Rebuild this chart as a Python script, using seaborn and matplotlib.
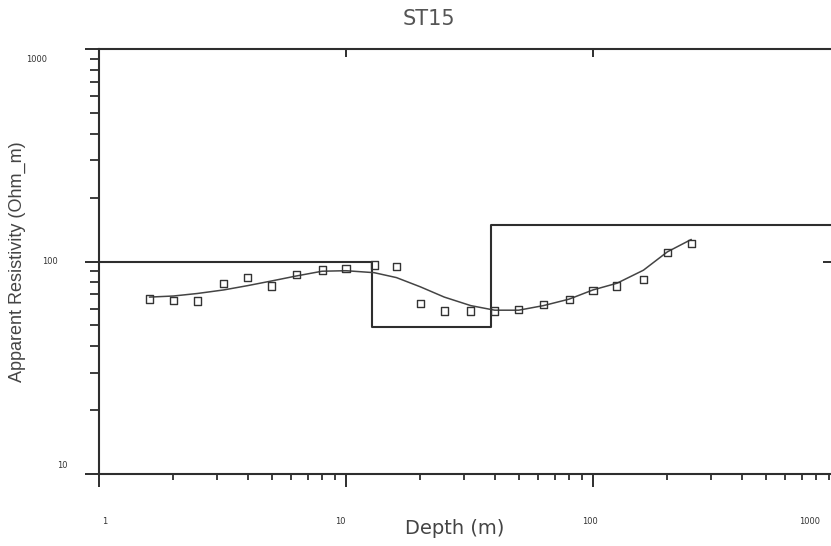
import matplotlib
matplotlib.use("Agg")
import matplotlib.pyplot as plt
import matplotlib.transforms as mtransforms
from matplotlib.ticker import LogLocator, NullFormatter
import numpy as np
import pandas as pd
import seaborn as sns

# Sounding ST15: AB/2 spacing (m) and apparent resistivity (Ohm.m)
spacing = [1.6, 2, 2.5, 3.2, 4, 5, 6.3, 8, 10, 13, 16, 20, 25, 32, 40,
           50, 63, 80, 100, 125, 160, 200, 250]
rho_observed = [66.6, 65.4, 65.2, 79.0, 83.9, 76.7, 86.7, 91.2, 92.5, 96.3,
                94.5, 63.3, 58.5, 58.5, 58.5, 59.6, 62.9, 66.1, 73.2, 76.7,
                82.1, 110.5, 121.8]
rho_calculated = [68.0, 68.8, 70.7, 73.5, 77.0, 81.0, 85.5, 90.0, 90.5, 88.6,
                  84.0, 76.0, 68.0, 62.0, 59.0, 59.0, 62.0, 66.5, 73.5, 79.0,
                  91.0, 111.0, 127.0]

# Layered model: top depth of each layer and its resistivity
layer_top = [1, 12.7, 38.6, 2000]
layer_rho = [100, 49, 148, 148]

# Axis tick labels
x_ticks = [1, 10, 100, 1000]
x_tick_labels = ["1", "10", "100", "1000"]
y_ticks = [10, 100, 1000]
y_tick_labels = ["10", "100", "1000"]

obs = pd.DataFrame({"depth": spacing, "rho": rho_observed})
calc = pd.DataFrame({"depth": spacing, "rho": rho_calculated})
model = pd.DataFrame({"depth": layer_top, "rho": layer_rho})

sns.set_style("ticks")
plt.rcParams["font.family"] = ["Liberation Sans", "DejaVu Sans"]

W, H, DPI = 831, 546, 100
fig = plt.figure(figsize=(W / DPI, H / DPI), dpi=DPI)
ax = fig.add_axes([99 / W, 1 - 474 / H, 741 / W, (474 - 49) / H])

ink = "#2e2e2e"
PT = 72 / DPI  # points per pixel

sns.lineplot(data=model, x="depth", y="rho", ax=ax, color=ink, lw=1.5,
             drawstyle="steps-post", estimator=None, sort=False)
sns.lineplot(data=calc, x="depth", y="rho", ax=ax, color="#444444", lw=1.1,
             estimator=None, sort=False)
sns.scatterplot(data=obs, x="depth", y="rho", ax=ax, marker="s", s=26,
                facecolor="none", edgecolor="#333333", linewidth=1.0, zorder=5)

ax.set_xscale("log")
ax.set_yscale("log")
ax.set_xlim(1, 1000)
ax.set_ylim(10, 1000)
ax.set_xlabel("")
ax.set_ylabel("")

for side in ["left", "bottom", "top", "right"]:
    ax.spines[side].set_color(ink)
    ax.spines[side].set_linewidth(1.5)

ax.set_xticks(x_ticks)
ax.set_yticks(y_ticks)
ax.xaxis.set_minor_locator(LogLocator(base=10, subs=np.arange(2, 10)))
ax.yaxis.set_minor_locator(LogLocator(base=10, subs=np.arange(2, 10)))
ax.xaxis.set_minor_formatter(NullFormatter())
ax.yaxis.set_minor_formatter(NullFormatter())

ax.tick_params(axis="x", which="major", direction="out", length=13 * PT,
               width=1.4, color=ink, top=True, labelbottom=False, labeltop=False)
ax.tick_params(axis="x", which="minor", direction="out", length=6 * PT,
               width=1.3, color=ink, top=False)
ax.tick_params(axis="y", which="major", direction="out", length=14 * PT,
               width=1.4, color=ink, right=True, labelleft=False, labelright=False)
ax.tick_params(axis="y", which="minor", direction="out", length=9 * PT,
               width=1.3, color=ink, right=False)
for t in ax.xaxis.get_major_ticks():
    t.tick2line.set_markersize(8 * PT)
    t.tick2line.set_marker(matplotlib.lines.TICKDOWN)
for t in ax.yaxis.get_major_ticks():
    t.tick2line.set_markersize(17 * PT)
    t.tick2line.set_marker(matplotlib.lines.TICKLEFT)


def px_offset(dx, dy):
    return mtransforms.ScaledTranslation(dx / DPI, -dy / DPI, fig.dpi_scale_trans)


label_style = dict(ha="center", va="center", fontsize=6, color="#333333",
                   family=["DejaVu Sans"], clip_on=False)

# x tick labels sit well below the axis, nudged a few pixels sideways
x_nudge = [6, -6, -3, -30]
x_lab_tr = mtransforms.blended_transform_factory(ax.transData, ax.transAxes)
for val, lab, dx in zip(x_ticks, x_tick_labels, x_nudge):
    ax.text(val, 0, lab, transform=x_lab_tr + px_offset(dx, 48), **label_style)

# y tick labels
y_lab_x = [62, 50, 37]
y_nudge = [-8, 0, 11]
y_lab_tr = mtransforms.blended_transform_factory(ax.transAxes, ax.transData)
for val, lab, xp, dy in zip(y_ticks, y_tick_labels, y_lab_x, y_nudge):
    ax.text(0, val, lab, transform=y_lab_tr + px_offset(xp - 99, dy), **label_style)

fig.text(429 / W, 1 - 19 / H, "ST15", ha="center", va="center",
         fontsize=15, color="#555555", family=["DejaVu Sans"])
fig.text(455 / W, 1 - 529 / H, "Depth (m)", ha="center", va="center",
         fontsize=14, color="#444444", family=["DejaVu Sans"])
fig.text(17 / W, 1 - 262 / H, "Apparent Resistivity (Ohm_m)", ha="center",
         va="center", rotation=90, fontsize=13, color="#444444")

fig.savefig("out.png", dpi=DPI, facecolor="white")
